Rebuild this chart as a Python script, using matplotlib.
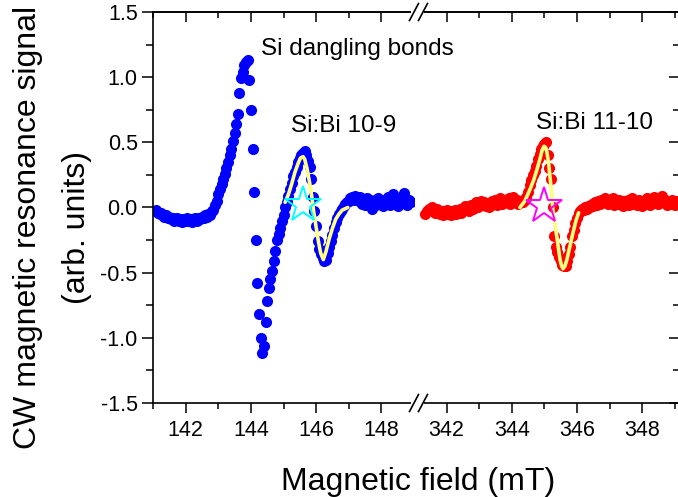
import numpy as np
import matplotlib
matplotlib.use("Agg")
import matplotlib.pyplot as plt
from matplotlib.ticker import MultipleLocator, FixedLocator
from matplotlib.lines import Line2D
from matplotlib.patches import Rectangle

plt.rcParams['font.family'] = ['Liberation Sans', 'DejaVu Sans']

# ---- data ----
# low-field sweep (Si dangling bonds + Si:Bi 10-9), 0.05 mT steps from 141.05 mT
field_low_start, field_step = 141.05, 0.05
signal_low = [
    -0.03, -0.02, -0.04, -0.05, -0.04, -0.06, -0.07, -0.06, -0.08, -0.07,
    -0.09, -0.08, -0.10, -0.09, -0.08, -0.10, -0.09, -0.11, -0.09, -0.10,
    -0.08, -0.10, -0.09, -0.11, -0.09, -0.08, -0.10, -0.08, -0.09, -0.07,
    -0.08, -0.06, -0.07, -0.05, -0.06, -0.03, -0.02, 0.02, 0.05, 0.10,
    0.14, 0.18, 0.22, 0.26, 0.30, 0.35, 0.40, 0.45, 0.51, 0.57,
    0.64, 0.72, 0.88, 0.99, 1.04, 1.09, 1.12, 1.13, 0.98, 0.75,
    0.45, 0.12, -0.25, -0.58, -0.82, -1.00, -1.12, -1.06, -0.88, -0.72,
    -0.62, -0.55, -0.49, -0.41, -0.33, -0.25, -0.20, -0.16, -0.10, -0.06,
    0.00, 0.04, 0.09, 0.14, 0.19, 0.24, 0.27, 0.31, 0.35, 0.38,
    0.40, 0.42, 0.43, 0.40, 0.36, 0.31, 0.22, 0.08, -0.03, -0.14,
    -0.26, -0.32, -0.36, -0.39, -0.41, -0.40, -0.35, -0.30, -0.26, -0.21,
    -0.16, -0.11, -0.08, -0.05, -0.03, -0.01, 0.01, 0.03, 0.04, 0.05,
    0.07, 0.08, 0.06, 0.09, 0.07, 0.05, 0.08, 0.03, 0.06, 0.02,
    0.07, 0.04, 0.06, -0.01, 0.04, 0.06, 0.02, 0.07, 0.03, 0.05,
    0.01, 0.06, 0.04, 0.08, 0.02, 0.05, 0.10, 0.03, 0.06, 0.01,
    0.05, 0.08, 0.04, 0.11, 0.05, 0.02, 0.06, 0.04,
]

# high-field sweep (Si:Bi 11-10), 0.05 mT steps from 341.35 mT
field_high_start = 341.35
signal_high = [
    -0.05, -0.03, -0.01, -0.02, 0.00, -0.02, -0.04, -0.01, -0.03, -0.05,
    -0.03, -0.06, -0.04, -0.02, -0.05, -0.03, -0.06, -0.04, -0.02, -0.05,
    -0.03, -0.01, -0.04, -0.02, 0.01, -0.02, 0.00, -0.03, 0.02, -0.01,
    0.01, 0.04, 0.00, 0.03, 0.05, 0.02, 0.04, 0.01, 0.03, 0.00,
    0.02, 0.05, 0.03, 0.06, 0.02, 0.04, 0.07, 0.03, 0.05, 0.06,
    0.04, 0.07, 0.03, 0.05, 0.08, 0.04, 0.06, 0.03, 0.05, 0.04,
    0.04, 0.06, 0.08, 0.12, 0.17, 0.21, 0.25, 0.28, 0.32, 0.37,
    0.41, 0.45, 0.47, 0.49, 0.50, 0.40, 0.30, 0.22, 0.00, -0.22,
    -0.30, -0.34, -0.38, -0.41, -0.44, -0.45, -0.45, -0.41, -0.36, -0.30,
    -0.22, -0.17, -0.12, -0.08, -0.04, -0.03, -0.01, -0.02, 0.00, -0.01,
    0.01, 0.00, 0.03, 0.01, 0.04, 0.02, 0.05, 0.03, 0.06, 0.04,
    0.07, 0.05, 0.03, 0.06, 0.04, 0.07, 0.02, 0.05, 0.03, 0.06,
    0.04, 0.01, 0.05, 0.03, 0.06, 0.02, 0.05, 0.07, 0.03, 0.05,
    0.02, 0.06, 0.04, 0.01, 0.05, 0.03, 0.07, 0.04, 0.02, 0.05,
    0.08, 0.04, 0.06, 0.03, 0.05, 0.09, 0.04, 0.06, 0.02, 0.05,
    0.03, 0.06, 0.04, 0.02, 0.05, 0.03,
]

# fitted line shapes
fit_low_field = [145.05, 145.15, 145.25, 145.35, 145.45, 145.52, 145.60, 145.65,
                 145.72, 145.80, 145.87, 145.93, 146.00, 146.07, 146.14, 146.22,
                 146.30, 146.40, 146.50, 146.60, 146.70, 146.80, 146.97]
fit_low_signal = [0.04, 0.10, 0.18, 0.27, 0.34, 0.38, 0.39, 0.37,
                  0.30, 0.19, 0.08, -0.04, -0.15, -0.26, -0.35, -0.40,
                  -0.34, -0.24, -0.16, -0.09, -0.05, -0.02, 0.00]
fit_high_field = [344.25, 344.40, 344.56, 344.67, 344.77, 344.86, 344.93, 344.99,
                  345.04, 345.08, 345.13, 345.17, 345.22, 345.26, 345.33, 345.39,
                  345.44, 345.48, 345.53, 345.57, 345.63, 345.69, 345.78, 345.88,
                  345.97, 346.05]
fit_high_signal = [0.00, 0.05, 0.14, 0.21, 0.29, 0.37, 0.44, 0.47,
                   0.46, 0.42, 0.34, 0.24, 0.11, -0.02, -0.14, -0.24,
                   -0.33, -0.40, -0.45, -0.47, -0.45, -0.40, -0.30, -0.19,
                   -0.10, -0.04]

# resonance field positions (stars)
star_low = (145.60, 0.02)
star_high = (344.98, 0.01)

field_low = np.round(field_low_start + field_step * np.arange(len(signal_low)), 2)
field_high = np.round(field_high_start + field_step * np.arange(len(signal_high)), 2)

# ---- figure layout (pixel boxes on a 678x497 canvas) ----
W, H = 678, 497
fig = plt.figure(figsize=(W / 100, H / 100), dpi=100)
y_top, y_bot = 12, 403
x_left, x_mid, x_right = 153, 414, 679
ax1 = fig.add_axes([x_left / W, 1 - y_bot / H, (x_mid - x_left) / W, (y_bot - y_top) / H])
ax2 = fig.add_axes([x_mid / W, 1 - y_bot / H, (x_right - x_mid) / W, (y_bot - y_top) / H],
                   sharey=ax1)
ax2.patch.set_visible(False)

tick_fs = 15.5
lw_spine = 1.2

for ax, f, s, col in [(ax1, field_low, signal_low, 'blue'),
                      (ax2, field_high, signal_high, 'red')]:
    ax.plot(f, s, 'o', color=col, ms=8, mec=col, mew=0, zorder=2)

ax1.plot(fit_low_field, fit_low_signal, color='#ffff80', lw=2.6,
         solid_joinstyle='round', solid_capstyle='round', zorder=3)
ax2.plot(fit_high_field, fit_high_signal, color='#ffff80', lw=2.6,
         solid_joinstyle='round', solid_capstyle='round', zorder=3)
ax1.plot(*star_low, marker='*', ms=27, mfc='none', mec='cyan', mew=1.4, zorder=4)
ax2.plot(*star_high, marker='*', ms=27, mfc='none', mec='magenta', mew=1.4, zorder=4)

ax1.set_xlim(141, 149)
ax2.set_xlim(341, 341 + (x_right - x_mid) / 32.6)
ax1.set_ylim(-1.5, 1.5)

ax1.xaxis.set_major_locator(FixedLocator([142, 144, 146, 148]))
ax1.xaxis.set_minor_locator(FixedLocator([141, 143, 145, 147]))
ax2.xaxis.set_major_locator(FixedLocator([342, 344, 346, 348]))
ax2.xaxis.set_minor_locator(FixedLocator([343, 345, 347, 349]))
ax1.yaxis.set_major_locator(MultipleLocator(0.5))
ax1.yaxis.set_minor_locator(MultipleLocator(0.25))
ax1.yaxis.set_major_formatter(plt.FormatStrFormatter('%.1f'))

for ax in (ax1, ax2):
    for sp in ax.spines.values():
        sp.set_linewidth(lw_spine)
    ax.tick_params(axis='x', which='major', direction='out', length=7.5, width=1.1,
                   labelsize=tick_fs, pad=5, top=False)
    ax.tick_params(axis='x', which='minor', direction='out', length=4, width=1.1, top=False)
    # inward ticks along the top edge
    top = ax.secondary_xaxis('top')
    top.xaxis.set_major_locator(ax.xaxis.get_major_locator())
    top.xaxis.set_minor_locator(ax.xaxis.get_minor_locator())
    top.tick_params(which='major', direction='in', length=7.5, width=1.1, labeltop=False)
    top.tick_params(which='minor', direction='in', length=4.3, width=1.1)
    top.spines['top'].set_linewidth(lw_spine)

ax1.spines['right'].set_visible(False)
ax2.spines['left'].set_visible(False)
ax1.tick_params(axis='y', which='major', direction='out', length=8, width=1.1,
                labelsize=tick_fs, pad=3, right=False)
ax1.tick_params(axis='y', which='minor', direction='out', length=5, width=1.1, right=False)
ax2.tick_params(axis='y', which='both', left=False, labelleft=False, right=False)
rgt = ax2.secondary_yaxis('right')
rgt.yaxis.set_major_locator(MultipleLocator(0.5))
rgt.yaxis.set_minor_locator(MultipleLocator(0.25))
rgt.tick_params(which='major', direction='in', length=7.5, width=1.1, labelright=False)
rgt.tick_params(which='minor', direction='in', length=4.3, width=1.1)

# peak labels
ax1.text(147.25, 1.17, 'Si dangling bonds', fontsize=17.5, ha='center', va='baseline',
         zorder=5)
ax1.text(146.85, 0.58, 'Si:Bi 10-9', fontsize=17.5, ha='center', va='baseline')
ax2.text(346.55, 0.60, 'Si:Bi 11-10', fontsize=17.5, ha='center', va='baseline')

# axis break marks on top and bottom edges
for yb in (y_top, y_bot):
    fig.add_artist(Rectangle(((x_mid - 3) / W, 1 - (yb + 3) / H), 13 / W, 6 / H,
                             transform=fig.transFigure, facecolor='white',
                             edgecolor='none', zorder=10))
    for xc in (x_mid, x_mid + 9):
        fig.add_artist(Line2D([(xc - 4.5) / W, (xc + 4.5) / W],
                              [1 - (yb + 8.5) / H, 1 - (yb - 8.5) / H],
                              transform=fig.transFigure, color='black',
                              lw=lw_spine, zorder=11))

# axis titles
fig.text(418 / W, 1 - 490 / H, 'Magnetic field (mT)', fontsize=23,
         ha='center', va='baseline')
fig.text(28 / W, 1 - 227 / H, 'CW magnetic resonance signal', fontsize=23,
         rotation=90, ha='center', va='center')
fig.text(77 / W, 1 - 227 / H, '(arb. units)', fontsize=23,
         rotation=90, ha='center', va='center')

fig.savefig('out.png', dpi=100)
